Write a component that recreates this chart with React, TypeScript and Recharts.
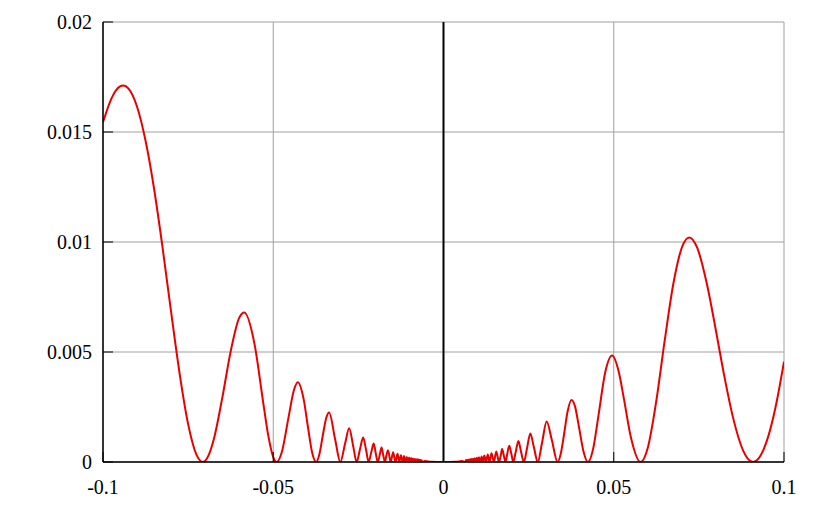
import {
  LineChart,
  Line,
  XAxis,
  YAxis,
  CartesianGrid,
  ReferenceLine,
} from "recharts";

// left branch (x < 0)
const leftX = [
  -0.1, -0.0975, -0.095, -0.094, -0.0925, -0.09, -0.0875, -0.085, -0.0825, -0.08,
  -0.0775, -0.075, -0.0725, -0.0707, -0.069, -0.0675, -0.065, -0.0625, -0.06, -0.0585,
  -0.0555, -0.053, -0.0515, -0.05, -0.049, -0.0475, -0.0455, -0.044, -0.0428, -0.0411,
  -0.0398, -0.0386, -0.0374, -0.0364, -0.0354, -0.0344, -0.0336, -0.0318, -0.0303, -0.0289,
  -0.0277, -0.0265, -0.0255, -0.0245, -0.0236, -0.0227, -0.022, -0.0212, -0.0205, -0.0199,
  -0.0193, -0.0187, -0.0182, -0.0177, -0.0172, -0.0168, -0.0163, -0.0155, -0.0148, -0.0141,
  -0.0135, -0.013, -0.0125, -0.012, -0.0116, -0.0112, -0.0108, -0.0104, -0.0101, -0.0098,
  -0.0095, -0.0092, -0.009, -0.0087, -0.0085, -0.0083, -0.0081, -0.0079, -0.0077, -0.0075,
  -0.0073, -0.0072, -0.007, -0.0068, -0.0067, -0.0066, -0.0064, -0.0063, -0.0055, -0.0045,
  -0.0035,
];
const leftY = [
  0.01544, 0.01653, 0.01707, 0.01711, 0.01697, 0.01615, 0.0146, 0.01242, 0.00974, 0.00682,
  0.00402, 0.00172, 0.00031, 0, 0.0003, 0.00101, 0.00289, 0.00503, 0.00655, 0.00679,
  0.00536, 0.00276, 0.00123, 0.00022, 0, 0.00044, 0.00204, 0.00323, 0.00363, 0.00288,
  0.00158, 0.00044, 0, 0.00039, 0.00125, 0.00202, 0.00225, 0.00101, 0, 0.00084,
  0.00153, 0.0007, 0, 0.0006, 0.00111, 0.00052, 0, 0.00045, 0.00084, 0.0004,
  0, 0.00035, 0.00066, 0.00031, 0, 0.00028, 0.00053, 0, 0.00044, 0,
  0.00037, 0, 0.00031, 0, 0.00027, 0, 0.00023, 0, 0.0002, 0,
  0.00018, 0, 0.00016, 0, 0.00014, 0, 0.00013, 0, 0.00012, 0,
  0.00011, 0, 0.0001, 0, 0.00009, 0, 0.00008, 0, 0.00004, 0.00002,
  0.00001,
];

// right branch (x > 0)
const rightX = [
  0.0035, 0.0045, 0.0055,
  0.0064, 0.0066, 0.0067, 0.0068, 0.007, 0.0072, 0.0073, 0.0075, 0.0077, 0.0079,
  0.0081, 0.0083, 0.0085, 0.0087, 0.009, 0.0092, 0.0095, 0.0098, 0.0101, 0.0104,
  0.0108, 0.0112, 0.0116, 0.012, 0.0125, 0.013, 0.0135, 0.0141, 0.0148, 0.0155,
  0.0163, 0.0168, 0.0172, 0.0177, 0.0182, 0.0187, 0.0193, 0.0199, 0.0205, 0.0212,
  0.022, 0.0227, 0.0236, 0.0245, 0.0255, 0.0265, 0.0277, 0.0289, 0.0303, 0.0318,
  0.0335, 0.0344, 0.0354, 0.0364, 0.0376, 0.0386, 0.0398, 0.0411, 0.0424, 0.044,
  0.0455, 0.0475, 0.0495, 0.0515, 0.053, 0.055, 0.0579, 0.06, 0.0625, 0.065,
  0.0675, 0.07, 0.0722, 0.0745, 0.0775, 0.08, 0.0825, 0.085, 0.088, 0.0909,
  0.0925, 0.095, 0.0975, 0.1,
];
const rightY = [
  0.00001, 0.00002, 0.00004,
  0, 0.00009, 0, 0.00009, 0, 0.0001, 0, 0.00011, 0, 0.00012,
  0, 0.00014, 0, 0.00015, 0, 0.00017, 0, 0.00019, 0, 0.00022,
  0, 0.00025, 0, 0.00029, 0, 0.00034, 0, 0.0004, 0, 0.00048,
  0, 0.00028, 0.00059, 0.00031, 0, 0.00035, 0.00074, 0.0004, 0, 0.00045,
  0.00096, 0.00052, 0, 0.0006, 0.0013, 0.0007, 0, 0.00084, 0.00184, 0.00101,
  0, 0.00035, 0.00125, 0.00226, 0.00282, 0.00254, 0.00158, 0.00049, 0, 0.00064,
  0.0021, 0.00408, 0.00484, 0.00408, 0.00286, 0.00115, 0, 0.00065, 0.00278, 0.00556,
  0.0081, 0.00975, 0.01021, 0.00974, 0.00799, 0.00598, 0.00388, 0.00204, 0.00052, 0,
  0.00015, 0.00098, 0.00248, 0.00456,
];

const xTicks = [-0.1, -0.05, 0, 0.05, 0.1];
const yTicks = [0, 0.005, 0.01, 0.015, 0.02];

const data = [
  ...leftX.map((x, i) => ({ x, y: leftY[i] })),
  { x: 0, y: 0 },
  ...rightX.map((x, i) => ({ x, y: rightY[i] })),
];

const serif = '"Liberation Serif", "DejaVu Serif", serif';
const font = { fontFamily: serif, fontSize: 20, fill: "#000" };
const frame = { stroke: "#000", strokeWidth: 1.5 };
const blank = () => "";

export default function App() {
  return (
    <div style={{ width: 803, height: 496, fontFamily: serif }}>
      <LineChart
        width={803}
        height={496}
        data={data}
        margin={{ top: 14, right: 27, bottom: 0, left: 0 }}
        style={{ fontFamily: serif }}
      >
        <CartesianGrid stroke="#a0a0a0" strokeWidth={1} />
        <XAxis
          dataKey="x"
          type="number"
          domain={[-0.1, 0.1]}
          ticks={xTicks}
          allowDataOverflow
          height={42}
          tickSize={-10}
          tickMargin={28}
          tick={font}
          axisLine={frame}
          tickLine={{ stroke: "#000" }}
        />
        <XAxis
          xAxisId="top"
          orientation="top"
          type="number"
          domain={[-0.1, 0.1]}
          ticks={xTicks}
          height={0}
          tickSize={-10}
          tickFormatter={blank}
          axisLine={frame}
          tickLine={{ stroke: "#000" }}
        />
        <YAxis
          type="number"
          domain={[0, 0.02]}
          ticks={yTicks}
          allowDataOverflow
          width={95}
          tickSize={-10}
          tickMargin={21}
          tick={font}
          axisLine={frame}
          tickLine={{ stroke: "#000" }}
        />
        <YAxis
          yAxisId="right"
          orientation="right"
          type="number"
          domain={[0, 0.02]}
          ticks={yTicks}
          width={0}
          tickSize={-10}
          tickFormatter={blank}
          axisLine={frame}
          tickLine={{ stroke: "#000" }}
        />
        <ReferenceLine x={0} stroke="#000" strokeWidth={2} />
        <Line
          type="monotone"
          dataKey="y"
          stroke="#e80000"
          strokeWidth={2}
          dot={false}
          isAnimationActive={false}
        />
      </LineChart>
    </div>
  );
}
